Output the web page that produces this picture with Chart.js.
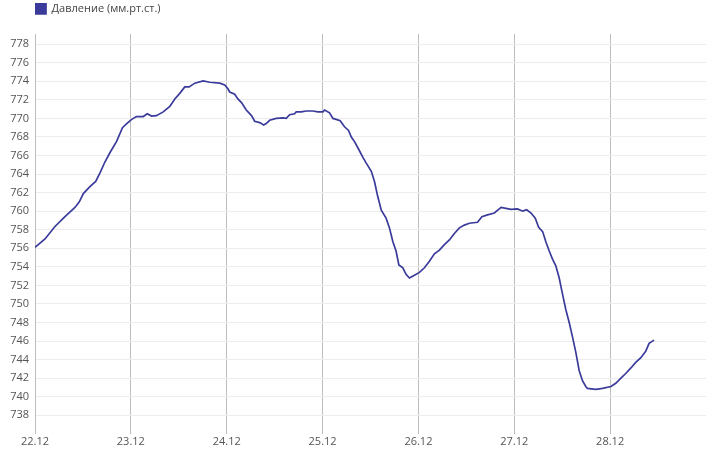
<!DOCTYPE html>
<html>
<head>
<meta charset="utf-8">
<script src="https://cdn.jsdelivr.net/npm/chart.js@4/dist/chart.umd.min.js"></script>
<style>
html,body{margin:0;padding:0;background:#fff;}
#wrap{width:707px;height:451px;}
</style>
</head>
<body>
<div id="wrap"><canvas id="c" width="707" height="451"></canvas></div>
<script>
// Hours since 22.12 00:00
const hours = [0,2.5,5,7.5,10,11.1,12.1,13.75,15.2,16.25,17.5,18.75,20.4,21.9,22.9,24.2,25.4,27.1,28.1,29.2,30.4,32.1,33.75,35,36.25,37.5,38.6,40,42.1,43.75,46.25,47.5,48.3,48.75,50,50.8,51.7,52.9,54.2,55,56.25,57.25,57.9,58.75,60.4,62.1,62.9,63.75,65,65.4,66.7,67.9,69.6,70.8,72.1,72.5,73.75,74.6,75.4,76.4,77.5,78.5,79.2,80,81,82.1,82.9,84.2,85,85.8,86.7,87.9,88.75,89.6,90.4,91.1,92.1,92.9,93.75,95,96.25,97.5,98.75,100,101.25,102.5,103.75,105,106.25,107.5,108.75,110.8,111.9,113.3,115,116.7,117.9,119.2,120.8,122.1,123.1,124.2,125.25,126.1,127.1,127.9,128.75,129.6,130.4,131.25,132.1,132.9,133.75,134.6,135.4,136.25,137.1,137.9,138.3,140.4,142.1,144.2,145.4,146.7,147.9,149.2,150.4,151.7,152.9,153.75,155];
const pressure = [756.1,757.0,758.35,759.4,760.4,761.0,761.9,762.65,763.2,764.1,765.3,766.3,767.5,769.0,769.4,769.9,770.2,770.2,770.5,770.25,770.3,770.7,771.3,772.1,772.7,773.4,773.4,773.8,774.05,773.9,773.8,773.6,773.2,772.85,772.6,772.1,771.7,770.9,770.3,769.7,769.55,769.3,769.45,769.8,770.0,770.05,770.0,770.4,770.5,770.7,770.7,770.8,770.8,770.7,770.7,770.9,770.6,770.0,769.9,769.75,769.1,768.7,768.0,767.5,766.7,765.8,765.2,764.3,763.2,761.6,760.1,759.25,758.2,756.7,755.7,754.2,753.9,753.2,752.8,753.1,753.4,753.9,754.6,755.4,755.8,756.4,756.9,757.6,758.2,758.5,758.7,758.8,759.4,759.6,759.8,760.4,760.3,760.2,760.25,760.0,760.15,759.8,759.25,758.25,757.8,756.7,755.7,754.8,754.1,752.8,751.0,749.4,748.0,746.4,744.8,742.8,741.7,741.1,740.9,740.8,740.9,741.1,741.45,742.0,742.5,743.1,743.7,744.2,744.9,745.75,746.1];
const dayLabels = ['22.12','23.12','24.12','25.12','26.12','27.12','28.12',''];
const yTickValues = [738,740,742,744,746,748,750,752,754,756,758,760,762,764,766,768,770,772,774,776,778];
const seriesName = 'Давление (мм.рт.ст.)';

const points = hours.map((h, i) => ({x: h, y: pressure[i]}));
const lineColor = '#3b3b9b';
const FONT = {family: '"Open Sans", sans-serif', size: 11};

const legendSpacer = {
  id: 'legendSpacer',
  beforeInit(chart) {
    const origFit = chart.legend.fit;
    chart.legend.fit = function() {
      origFit.bind(chart.legend)();
      this.height = 31;
    };
  }
};

new Chart(document.getElementById('c'), {
  type: 'line',
  data: {
    datasets: [{
      label: seriesName,
      data: points,
      borderColor: lineColor,
      backgroundColor: lineColor,
      borderWidth: 1.7,
      pointRadius: 0,
      tension: 0,
      fill: false
    }]
  },
  options: {
    responsive: false,
    animation: false,
    layout: {padding: {top: 3, left: 0, right: -2, bottom: 2}},
    plugins: {
      legend: {
        position: 'top',
        align: 'start',
        fullSize: false,
        labels: {
          boxWidth: 11,
          boxHeight: 11,
          padding: 0,
          color: '#444',
          font: FONT
        }
      },
      tooltip: {enabled: false}
    },
    scales: {
      x: {
        type: 'linear',
        min: 0,
        max: 168,
        afterBuildTicks(scale) {
          scale.ticks = dayLabels.map((l, i) => ({value: i * 24}));
        },
        ticks: {
          autoSkip: false,
          maxRotation: 0,
          padding: 1,
          color: '#555',
          font: FONT,
          callback: (v) => dayLabels[Math.round(v / 24)]
        },
        grid: {
          color: (ctx) => (ctx.tick && ctx.tick.value === 168) ? 'rgba(0,0,0,0)' : '#bdbdbd',
          drawTicks: false
        },
        border: {display: false}
      },
      y: {
        min: 736,
        max: 779.1,
        afterBuildTicks(scale) {
          scale.ticks = yTickValues.map(v => ({value: v}));
        },
        afterFit(scale) { scale.width = 35; },
        ticks: {
          padding: 6,
          color: '#555',
          font: FONT
        },
        grid: {
          color: '#ececec',
          drawTicks: false
        },
        border: {display: true, color: '#bdbdbd'}
      }
    }
  },
  plugins: [legendSpacer]
});
</script>
</body>
</html>
